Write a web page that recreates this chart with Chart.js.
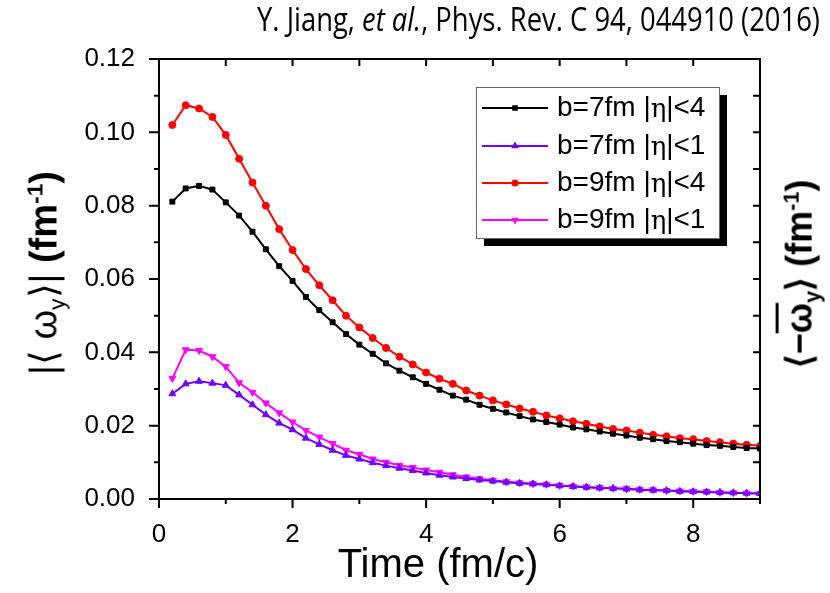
<!DOCTYPE html>
<html>
<head>
<meta charset="utf-8">
<script src="https://cdn.jsdelivr.net/npm/chart.js@4.4.1/dist/chart.umd.min.js"></script>
<style>
  body { margin: 0; background: #fff; }
  #wrap { position: relative; width: 830px; height: 593px; overflow: hidden; }
  #chart { position: absolute; left: 0; top: 0; }
  .txt { position: absolute; white-space: nowrap; color: #000; font-family: "Liberation Sans", Arial, sans-serif; line-height: 1; }
  #cite { left: 257px; top: 2px; font-family: "Open Sans", sans-serif; font-size: 33px; transform-origin: 0 0; }
  #ytitle { left: 46px; top: 273px; font-size: 38px; transform: translate(-50%, -50%) rotate(-90deg); }
  #y2title { left: 802px; top: 274px; font-size: 36px; font-weight: bold; transform: translate(-50%, -50%) rotate(-90deg); }
  #xtitle { left: 438px; top: 543px; font-size: 40px; transform: translateX(-50%); }
  sub, sup { font-size: 60%; }
</style>
</head>
<body>
<div id="wrap">
  <canvas id="chart" width="830" height="593"></canvas>
  <div class="txt" id="cite">Y. Jiang, <i>et al.</i>, Phys. Rev. C 94, 044910 (2016)</div>
  <div class="txt" id="ytitle">|⟨ ω<sub>y</sub>⟩| <b>(fm<sup>-1</sup>)</b></div>
  <div class="txt" id="y2title">⟨−<span style="text-decoration: overline">ω</span><sub>y</sub>⟩ (fm<sup>-1</sup>)</div>
  <div class="txt" id="xtitle">Time (fm/c)</div>
</div>
<script>
// time steps (fm/c)
const times = [0.2, 0.4, 0.6, 0.8, 1.0, 1.2, 1.4, 1.6, 1.8, 2.0,
  2.2, 2.4, 2.6, 2.8, 3.0, 3.2, 3.4, 3.6, 3.8, 4.0,
  4.2, 4.4, 4.6, 4.8, 5.0, 5.2, 5.4, 5.6, 5.8, 6.0,
  6.2, 6.4, 6.6, 6.8, 7.0, 7.2, 7.4, 7.6, 7.8, 8.0,
  8.2, 8.4, 8.6, 8.8, 9.0];

const seriesNames = ["b=7fm |η|<4", "b=7fm |η|<1", "b=9fm |η|<4", "b=9fm |η|<1"];

const b7eta4 = [0.0811, 0.0847, 0.0854, 0.0844, 0.0809, 0.0773, 0.0729, 0.0681, 0.0635, 0.0595,
  0.0551, 0.0515, 0.0482, 0.0450, 0.0421, 0.0396, 0.0370, 0.0350, 0.0332, 0.0314,
  0.0298, 0.0282, 0.0271, 0.0257, 0.0246, 0.0236, 0.0226, 0.0217, 0.0210, 0.0203,
  0.0195, 0.0190, 0.0184, 0.0178, 0.0173, 0.0167, 0.0163, 0.0158, 0.0155, 0.0151,
  0.0147, 0.0145, 0.0142, 0.0139, 0.0138];

const b7eta1 = [0.0287, 0.0314, 0.0321, 0.0316, 0.0310, 0.0284, 0.0257, 0.0230, 0.0207, 0.0189,
  0.0166, 0.0149, 0.0133, 0.0119, 0.0109, 0.0099, 0.0091, 0.0084, 0.0078, 0.0071,
  0.0065, 0.0060, 0.0056, 0.0052, 0.0049, 0.0046, 0.0043, 0.0041, 0.0039, 0.0036,
  0.0034, 0.0032, 0.0030, 0.0029, 0.0027, 0.0025, 0.0024, 0.0023, 0.0021, 0.0020,
  0.0019, 0.0018, 0.0017, 0.0016, 0.0015];

const b9eta4 = [0.1020, 0.1074, 0.1065, 0.1042, 0.0993, 0.0928, 0.0863, 0.0800, 0.0736, 0.0679,
  0.0627, 0.0583, 0.0542, 0.0500, 0.0468, 0.0439, 0.0412, 0.0388, 0.0367, 0.0345,
  0.0328, 0.0314, 0.0296, 0.0282, 0.0269, 0.0258, 0.0247, 0.0238, 0.0228, 0.0220,
  0.0212, 0.0205, 0.0198, 0.0191, 0.0187, 0.0181, 0.0175, 0.0171, 0.0166, 0.0163,
  0.0158, 0.0155, 0.0151, 0.0148, 0.0145];

const b9eta1 = [0.0329, 0.0407, 0.0405, 0.0388, 0.0361, 0.0317, 0.0291, 0.0262, 0.0235, 0.0210,
  0.0187, 0.0169, 0.0151, 0.0133, 0.0122, 0.0109, 0.0100, 0.0092, 0.0086, 0.0079,
  0.0073, 0.0066, 0.0060, 0.0055, 0.0051, 0.0047, 0.0044, 0.0042, 0.0040, 0.0037,
  0.0035, 0.0033, 0.0031, 0.0029, 0.0028, 0.0026, 0.0025, 0.0023, 0.0022, 0.0021,
  0.0020, 0.0018, 0.0017, 0.0016, 0.0015];

const xTicks = [0, 2, 4, 6, 8];
const yTicks = [0, 0.02, 0.04, 0.06, 0.08, 0.10, 0.12];

// fit the citation line to its width in the figure
const cite = document.getElementById("cite");
cite.style.transform = "scaleX(" + (563 / cite.offsetWidth) + ")";

const toPts = (arr) => times.map((t, i) => ({ x: t, y: arr[i] }));

function makeSet(label, values, color, style, rot, r) {
  return {
    label: label,
    data: toPts(values),
    borderColor: color,
    backgroundColor: color,
    borderWidth: 2,
    pointStyle: style,
    pointRotation: rot,
    pointRadius: r,
    pointBorderWidth: 1,
    tension: 0
  };
}

// frame, minor/major ticks and legend box
const decor = {
  id: "decor",
  afterDatasetsDraw(chart) {
    const ctx = chart.ctx;
    const a = chart.chartArea;
    const xs = chart.scales.x;
    const ys = chart.scales.y;
    ctx.save();
    ctx.strokeStyle = "#000";
    ctx.lineWidth = 2;
    ctx.strokeRect(a.left, a.top, a.right - a.left, a.bottom - a.top);

    ctx.beginPath();
    for (let v = 0; v <= 9; v++) {
      const px = xs.getPixelForValue(v);
      const len = v % 2 === 0 ? 9 : 5;
      ctx.moveTo(px, a.bottom);
      ctx.lineTo(px, a.bottom + len);
      ctx.moveTo(px, a.top);
      ctx.lineTo(px, a.top + 7);
    }
    for (let k = 0; k <= 12; k++) {
      const py = ys.getPixelForValue(k / 100);
      const len = k % 2 === 0 ? 10 : 5;
      ctx.moveTo(a.left, py);
      ctx.lineTo(a.left - len, py);
      ctx.moveTo(a.right, py);
      ctx.lineTo(a.right - 7, py);
    }
    ctx.stroke();

    // legend
    const bx = 476, by = 87, bw = 243, bh = 151;
    ctx.fillStyle = "#000";
    ctx.fillRect(bx + 8, by + 8, bw, bh);
    ctx.fillStyle = "#fff";
    ctx.fillRect(bx, by, bw, bh);
    ctx.lineWidth = 1;
    ctx.strokeStyle = "#666";
    ctx.strokeRect(bx + 0.5, by + 0.5, bw, bh);

    const rows = [108, 146, 183, 220];
    chart.data.datasets.forEach((ds, i) => {
      const y = rows[i];
      ctx.strokeStyle = ds.borderColor;
      ctx.fillStyle = ds.backgroundColor;
      ctx.lineWidth = 2;
      ctx.beginPath();
      ctx.moveTo(482, y);
      ctx.lineTo(548, y);
      ctx.stroke();
      Chart.helpers.drawPoint(ctx, {
        pointStyle: ds.pointStyle, radius: 2.5, rotation: ds.pointRotation, borderWidth: 1
      }, 515, y);

      const parts = ds.label.split("η");
      ctx.fillStyle = "#000";
      ctx.textBaseline = "middle";
      let x = 557;
      ctx.font = "28px 'Liberation Sans', Arial, sans-serif";
      ctx.fillText(parts[0], x, y);
      x += ctx.measureText(parts[0]).width;
      ctx.font = "26px 'DejaVu Serif', serif";
      ctx.fillText("η", x, y + 2);
      x += ctx.measureText("η").width;
      ctx.font = "28px 'Liberation Sans', Arial, sans-serif";
      ctx.fillText(parts[1], x, y);
    });
    ctx.restore();
  }
};

new Chart(document.getElementById("chart"), {
  type: "line",
  data: {
    datasets: [
      makeSet(seriesNames[0], b7eta4, "#000000", "rect", 0, 3.5),
      makeSet(seriesNames[1], b7eta1, "#7000ff", "triangle", 0, 4),
      makeSet(seriesNames[2], b9eta4, "#ff0000", "circle", 0, 3.5),
      makeSet(seriesNames[3], b9eta1, "#ff00ff", "triangle", 180, 4)
    ]
  },
  options: {
    responsive: false,
    animation: false,
    layout: { padding: { top: 59, right: 70, left: 0, bottom: 0 } },
    plugins: {
      legend: { display: false },
      tooltip: { enabled: false }
    },
    scales: {
      x: {
        type: "linear",
        min: 0,
        max: 9,
        afterFit: (s) => { s.height = 94; },
        afterBuildTicks: (s) => { s.ticks = xTicks.map(v => ({ value: v })); },
        ticks: {
          color: "#000",
          padding: 12,
          maxRotation: 0,
          font: { family: "'Liberation Sans', Arial, sans-serif", size: 26 }
        },
        grid: { display: false },
        border: { display: false }
      },
      y: {
        min: 0,
        max: 0.12,
        afterFit: (s) => { s.width = 159; },
        afterBuildTicks: (s) => { s.ticks = yTicks.map(v => ({ value: v })); },
        ticks: {
          color: "#000",
          padding: 16,
          callback: (v) => v.toFixed(2),
          font: { family: "'Liberation Sans', Arial, sans-serif", size: 26 }
        },
        grid: { display: false },
        border: { display: false }
      }
    }
  },
  plugins: [decor]
});
</script>
</body>
</html>
